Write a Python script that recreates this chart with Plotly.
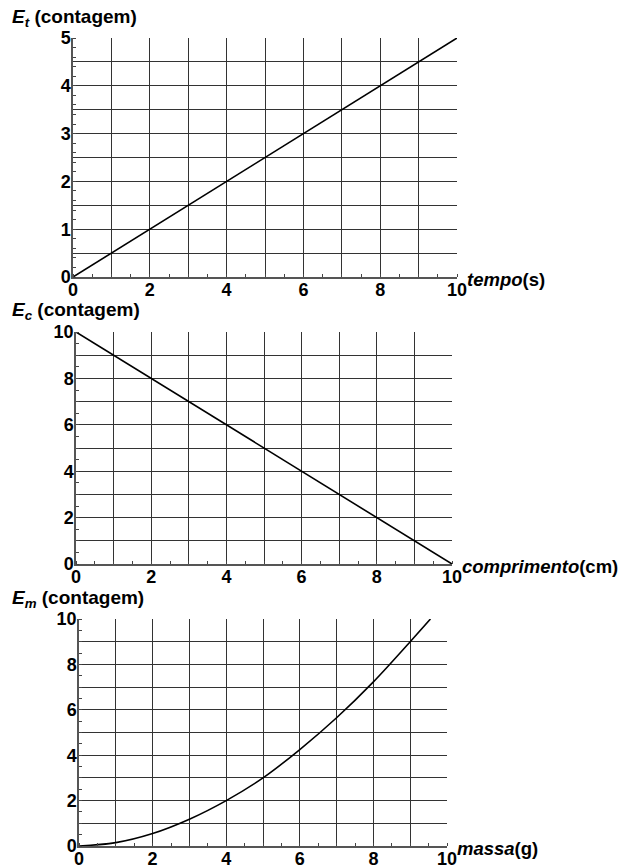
import plotly.graph_objects as go

# dados
tempo = [0, 1, 2, 3, 4, 5, 6, 7, 8, 9, 10]
Et = [0, 0.5, 1, 1.5, 2, 2.5, 3, 3.5, 4, 4.5, 5]

comprimento = [0, 1, 2, 3, 4, 5, 6, 7, 8, 9, 10]
Ec = [10, 9, 8, 7, 6, 5, 4, 3, 2, 1, 0]

massa = [0, 1, 2, 3, 4, 5, 6, 7, 8, 9, 9.55]
Em = [0, 0.15, 0.55, 1.18, 2, 3, 4.25, 5.65, 7.23, 9, 10]

x_ticks = [0, 1, 2, 3, 4, 5, 6, 7, 8, 9, 10]
y1_ticks = [0, 0.5, 1, 1.5, 2, 2.5, 3, 3.5, 4, 4.5, 5]
y2_ticks = [0, 1, 2, 3, 4, 5, 6, 7, 8, 9, 10]

W, H = 622, 865
FONT = "Liberation Sans"
GRID = "#333333"


def lbl(v, step):
    # so mostra o rotulo nos multiplos de step
    if abs(v / step - round(v / step)) < 1e-9:
        return "%g" % v
    return ""


def xax(dom, anchor):
    return dict(
        domain=dom, anchor=anchor, range=[0, 10], automargin=False,
        tickvals=x_ticks, ticktext=[lbl(v, 2) for v in x_ticks],
        ticks="", ticklabelstandoff=-4, showgrid=True, gridcolor=GRID, gridwidth=1,
        showline=True, linecolor="#555", linewidth=1.5,
        zeroline=False, tickfont=dict(family=FONT, size=18, color="black", weight="bold"),
        minor=dict(dtick=0.5, ticks="inside", ticklen=3, tickcolor="#444", showgrid=False),
        fixedrange=True,
    )


def yax(dom, anchor, rng, vals, step, minor):
    return dict(
        domain=dom, anchor=anchor, range=rng, automargin=False,
        tickvals=vals, ticktext=[lbl(v, step) for v in vals],
        ticks="", ticklabelstandoff=-3, showgrid=True, gridcolor=GRID, gridwidth=1,
        showline=True, linecolor="#555", linewidth=1.5,
        zeroline=False, tickfont=dict(family=FONT, size=18, color="black", weight="bold"),
        minor=dict(dtick=minor, ticks="inside", ticklen=3, tickcolor="#444", showgrid=False),
        fixedrange=True,
    )


fig = go.Figure()
fig.add_trace(go.Scatter(x=tempo, y=Et, mode="lines", line=dict(color="black", width=1.6),
                         xaxis="x", yaxis="y", showlegend=False))
fig.add_trace(go.Scatter(x=comprimento, y=Ec, mode="lines", line=dict(color="black", width=1.6),
                         xaxis="x2", yaxis="y2", showlegend=False))
fig.add_trace(go.Scatter(x=massa, y=Em, mode="lines", line=dict(color="black", width=1.6, shape="spline"),
                         xaxis="x3", yaxis="y3", showlegend=False))

# posicoes dos paineis em pixels
p1 = (73, 457, 38, 277)
p2 = (76, 452, 332, 564)
p3 = (79, 447, 619, 846)


def xd(p):
    return [p[0] / W, p[1] / W]


def yd(p):
    return [1 - p[3] / H, 1 - p[2] / H]


fig.update_layout(
    width=W, height=H,
    margin=dict(l=0, r=0, t=0, b=0, autoexpand=False),
    paper_bgcolor="white", plot_bgcolor="white",
    xaxis=xax(xd(p1), "y"),
    yaxis=yax(yd(p1), "x", [0, 5], y1_ticks, 1, 0.2),
    xaxis2=xax(xd(p2), "y2"),
    yaxis2=yax(yd(p2), "x2", [0, 10], y2_ticks, 2, 0.5),
    xaxis3=xax(xd(p3), "y3"),
    yaxis3=yax(yd(p3), "x3", [0, 10], y2_ticks, 2, 0.5),
)

titles = [
    ("<b><i>E</i><sub><i>t</i></sub> (contagem)</b>", 4),
    ("<b><i>E</i><sub><i>c</i></sub> (contagem)</b>", 297),
    ("<b><i>E</i><sub><i>m</i></sub> (contagem)</b>", 585),
]
for txt, ytop in titles:
    fig.add_annotation(text=txt, xref="paper", yref="paper", x=0.0, y=1 - ytop / H,
                       xanchor="left", yanchor="top", xshift=10, showarrow=False,
                       font=dict(family=FONT, size=19, color="black"))

xlabels = [
    ("<b><i>tempo</i>(s)</b>", "x", "y"),
    ("<b><i>comprimento</i>(cm)</b>", "x2", "y2"),
    ("<b><i>massa</i>(g)</b>", "x3", "y3"),
]
for txt, xr, yr in xlabels:
    fig.add_annotation(text=txt, xref=xr, yref=yr, x=10, y=0, xanchor="left", yanchor="middle",
                       xshift=8, yshift=-2, showarrow=False,
                       font=dict(family=FONT, size=18.5, color="black"))

# tira a margem do body para a figura ocupar a janela toda
fig.write_html("out.html", config={"displayModeBar": False},
               post_script="document.body.style.margin='0';"
               "document.documentElement.style.overflow='hidden';")
